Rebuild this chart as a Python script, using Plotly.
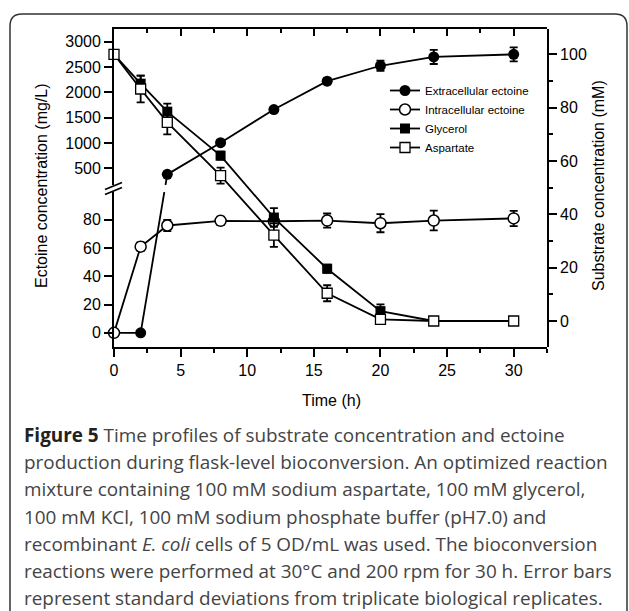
import plotly.graph_objects as go

# ---------------- data ----------------
time = [0, 2, 4, 8, 12, 16, 20, 24, 30]
extracellular = [0, 0, 380, 1005, 1660, 2220, 2525, 2700, 2750]          # mg/L
extracellular_err = [0, 0, 20, 40, 50, 60, 100, 140, 140]
intracellular = [0, 61, 76, 79.3, 79, 79.5, 77.6, 79.5, 81]               # mg/L
intracellular_err = [0, 3, 4, 3, 3, 5, 6.4, 7, 5.4]
glycerol = [100, 89, 78.5, 62, 38.8, 19.6, 3.7, 0, 0]                     # mM
glycerol_err = [0, 3, 3, 1.5, 3.5, 1.5, 2.5, 0, 0]
aspartate = [100, 87, 74.5, 54.5, 32.2, 10.4, 0.6, 0, 0]                  # mM
aspartate_err = [0, 5, 4.5, 3, 4.4, 3, 1, 0, 0]

x_ticks = [0, 5, 10, 15, 20, 25, 30]
low_ticks = [0, 20, 40, 60, 80]
high_ticks = [500, 1000, 1500, 2000, 2500, 3000]
right_ticks = [0, 20, 40, 60, 80, 100]

caption_lines = [
    "<span style='color:#222222'><b>Figure 5</b></span> Time profiles of substrate concentration and ectoine",
    "production during flask-level bioconversion. An optimized reaction",
    "mixture containing 100 mM sodium aspartate, 100 mM glycerol,",
    "100 mM KCl, 100 mM sodium phosphate buffer (pH7.0) and",
    "recombinant <i>E. coli</i> cells of 5 OD/mL was used. The bioconversion",
    "reactions were performed at 30°C and 200 rpm for 30 h. Error bars",
    "represent standard deviations from triplicate biological replicates.",
]

# ---------------- layout geometry ----------------
W, H = 629, 611
ML, MR, MT, MB = 114, 82, 29, 264
PW, PH = W - ML - MR, H - MT - MB


def px2x(px):
    return (px - ML) / PW


def py2y(py):
    return (H - MB - py) / PH


X_RANGE = [0, 32.5]
LOW_DOM = [0, py2y(192)]
HIGH_DOM = [py2y(185), 1]
LOW_RANGE = [-10, 99.7]
HIGH_RANGE = [170, 3251]
RIGHT_RANGE = [-9.75, 109.5]

AX_FONT = dict(family="Liberation Sans, Arial, sans-serif", size=16, color="black")
LW = 1.8


def frac_low(v):
    return LOW_DOM[0] + (v - LOW_RANGE[0]) / (LOW_RANGE[1] - LOW_RANGE[0]) * (LOW_DOM[1] - LOW_DOM[0])


def frac_high(v):
    return HIGH_DOM[0] + (v - HIGH_RANGE[0]) / (HIGH_RANGE[1] - HIGH_RANGE[0]) * (HIGH_DOM[1] - HIGH_DOM[0])


# split extracellular series across the broken axis
low_idx = [i for i, v in enumerate(extracellular) if v <= LOW_RANGE[1]]
high_idx = [i for i, v in enumerate(extracellular) if v > LOW_RANGE[1]]
ia, ib = low_idx[-1], high_idx[0]
xa, xb = time[ia], time[ib]
fa, fb = frac_low(extracellular[ia]), frac_high(extracellular[ib])
x_cross_low = xa + (LOW_DOM[1] - fa) / (fb - fa) * (xb - xa)
x_cross_high = xa + (HIGH_DOM[0] - fa) / (fb - fa) * (xb - xa)


def err(arr):
    return dict(type="data", array=arr, visible=True, thickness=LW, width=4, color="black")


fig = go.Figure()

# connector lines across the break
fig.add_trace(go.Scatter(x=[xa, x_cross_low], y=[extracellular[ia], LOW_RANGE[1]],
                         mode="lines", line=dict(color="black", width=LW),
                         xaxis="x", yaxis="y", showlegend=False, hoverinfo="skip"))
fig.add_trace(go.Scatter(x=[x_cross_high, xb], y=[HIGH_RANGE[0], extracellular[ib]],
                         mode="lines", line=dict(color="black", width=LW),
                         xaxis="x2", yaxis="y3", showlegend=False, hoverinfo="skip"))

# extracellular ectoine
fig.add_trace(go.Scatter(x=[time[i] for i in low_idx], y=[extracellular[i] for i in low_idx],
                         error_y=err([extracellular_err[i] for i in low_idx]),
                         mode="lines+markers", name="Extracellular ectoine", legendgroup="ext",
                         line=dict(color="black", width=LW),
                         marker=dict(symbol="circle", size=11, color="black"),
                         xaxis="x", yaxis="y", cliponaxis=False))
fig.add_trace(go.Scatter(x=[time[i] for i in high_idx], y=[extracellular[i] for i in high_idx],
                         error_y=err([extracellular_err[i] for i in high_idx]),
                         mode="lines+markers", name="Extracellular ectoine", legendgroup="ext",
                         showlegend=False,
                         line=dict(color="black", width=LW),
                         marker=dict(symbol="circle", size=11, color="black"),
                         xaxis="x2", yaxis="y3", cliponaxis=False))

# intracellular ectoine
fig.add_trace(go.Scatter(x=time, y=intracellular, error_y=err(intracellular_err),
                         mode="lines+markers", name="Intracellular ectoine",
                         line=dict(color="black", width=LW),
                         marker=dict(symbol="circle", size=11, color="white",
                                     line=dict(color="black", width=1.5)),
                         xaxis="x", yaxis="y", cliponaxis=False))

# substrates (right axis)
fig.add_trace(go.Scatter(x=time, y=glycerol, error_y=err(glycerol_err),
                         mode="lines+markers", name="Glycerol",
                         line=dict(color="black", width=LW),
                         marker=dict(symbol="square", size=10, color="black"),
                         xaxis="x", yaxis="y2", cliponaxis=False))
fig.add_trace(go.Scatter(x=time, y=aspartate, error_y=err(aspartate_err),
                         mode="lines+markers", name="Aspartate",
                         line=dict(color="black", width=LW),
                         marker=dict(symbol="square", size=10, color="white",
                                     line=dict(color="black", width=1.3)),
                         xaxis="x", yaxis="y2", cliponaxis=False))

common_axis = dict(showline=True, linecolor="black", linewidth=LW, showgrid=False,
                   zeroline=False, tickfont=AX_FONT, tickcolor="black", tickwidth=LW)

fig.update_layout(
    width=W, height=H,
    margin=dict(l=ML, r=MR, t=MT, b=MB, pad=0),
    paper_bgcolor="white", plot_bgcolor="rgba(0,0,0,0)",
    xaxis=dict(domain=[0, 1], range=X_RANGE, anchor="y", side="bottom",
               tickvals=x_ticks, ticks="outside", ticklen=8,
               minor=dict(dtick=2.5, tick0=0, ticks="outside", ticklen=4,
                          tickcolor="black", tickwidth=LW, showgrid=False),
               **common_axis),
    xaxis2=dict(overlaying="x", range=X_RANGE, anchor="y3", side="top",
                tickvals=x_ticks, ticks="inside", ticklen=7, showticklabels=False,
                minor=dict(dtick=2.5, tick0=0, ticks="inside", ticklen=4,
                           tickcolor="black", tickwidth=LW, showgrid=False),
                **common_axis),
    yaxis=dict(domain=LOW_DOM, range=LOW_RANGE, anchor="x", side="left",
               tickvals=low_ticks, ticks="outside", ticklen=8, **common_axis),
    yaxis3=dict(domain=HIGH_DOM, range=HIGH_RANGE, anchor="x", side="left",
                tickvals=high_ticks, ticks="outside", ticklen=8, **common_axis),
    yaxis2=dict(domain=[0, 1], range=RIGHT_RANGE, anchor="x", side="right",
                tickvals=right_ticks, ticks="outside", ticklen=8,
                minor=dict(dtick=10, tick0=0, ticks="outside", ticklen=4,
                           tickcolor="black", tickwidth=LW, showgrid=False),
                **common_axis),
    legend=dict(x=px2x(385), y=py2y(76), xanchor="left", yanchor="top",
                bgcolor="rgba(0,0,0,0)", borderwidth=0,
                font=dict(family="Liberation Sans, Arial, sans-serif", size=11.5, color="black"),
                tracegroupgap=0),
    showlegend=True,
)

annotations = [
    dict(text="Ectoine concentration (mg/L)", textangle=-90, x=px2x(41), y=py2y(186),
         xref="paper", yref="paper", xanchor="center", yanchor="middle", showarrow=False,
         font=AX_FONT),
    dict(text="Substrate concentration (mM)", textangle=-90, x=px2x(598), y=py2y(186),
         xref="paper", yref="paper", xanchor="center", yanchor="middle", showarrow=False,
         font=AX_FONT),
    dict(text="Time (h)", x=px2x(331), y=py2y(400),
         xref="paper", yref="paper", xanchor="center", yanchor="middle", showarrow=False,
         font=AX_FONT),
]
CAP_FONT = dict(family="Open Sans, sans-serif", size=18.9, color="#444444")
for k, line in enumerate(caption_lines):
    annotations.append(dict(text=line, x=px2x(22), y=py2y(435 + 27.2 * k),
                            xref="paper", yref="paper", xanchor="left", yanchor="middle",
                            showarrow=False, font=CAP_FONT))
fig.update_layout(annotations=annotations)


def pt(px, py):
    return f"{px2x(px):.5f},{py2y(py):.5f}"


frame = (f"M {pt(10, 660)} L {pt(10, 26)} Q {pt(10, 14)} {pt(22, 14)} "
         f"L {pt(615, 14)} Q {pt(627, 14)} {pt(627, 26)} L {pt(627, 660)}")
shapes = [
    dict(type="path", path=frame, xref="paper", yref="paper",
         line=dict(color="#333333", width=1.5)),
    dict(type="line", xref="paper", yref="paper", x0=px2x(105), y0=py2y(189.5),
         x1=px2x(122), y1=py2y(182.5), line=dict(color="black", width=LW)),
    dict(type="line", xref="paper", yref="paper", x0=px2x(105), y0=py2y(194.5),
         x1=px2x(122), y1=py2y(187.5), line=dict(color="black", width=LW)),
]
fig.update_layout(shapes=shapes)

fig.write_html("out.html")
